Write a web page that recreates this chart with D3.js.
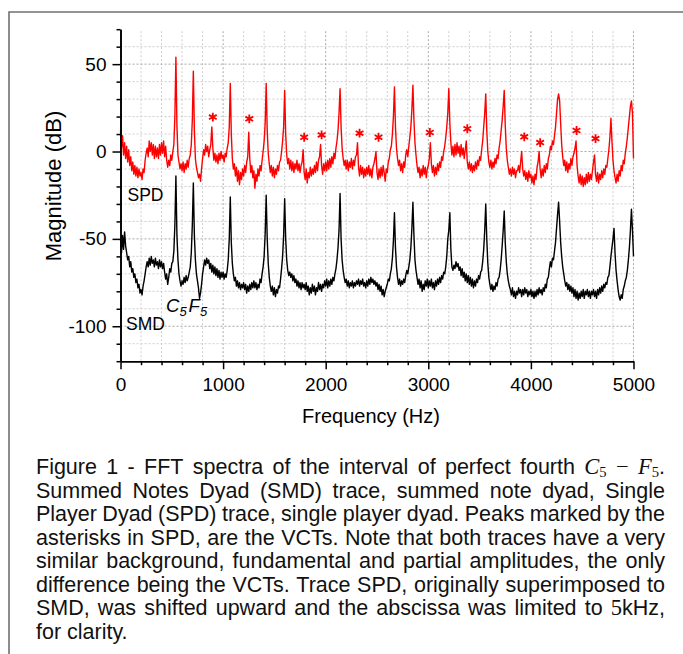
<!DOCTYPE html>
<html><head><meta charset="utf-8">
<script src="https://cdn.jsdelivr.net/npm/d3@7/dist/d3.min.js"></script>
<style>body{margin:0;background:#fff}svg{display:block}</style>
</head><body>
<script>
// ---------- DATA ----------
const freqStep = 10; // Hz between FFT bins, 0..5000 Hz
// Summed Notes Dyad (SMD), dB, one row per 200 Hz
const smdDb = [
 -50,-58,-48,-56,-46,-54,-58,-62,-60,-66,-63,-69,-67,-72,-70,-75,-73,-78,-76,-81,
 -79,-82,-77,-74,-70,-66,-63,-66,-61,-65,-60,-64,-62,-66,-61,-65,-63,-67,-62,-66,
 -63,-67,-64,-69,-73,-70,-76,-72,-67,-69,-64,-63,-57,-42,-14,-48,-62,-70,-74,-77,
 -74,-76,-72,-75,-71,-74,-72,-69,-66,-58,-42,-18,-48,-62,-70,-74,-78,-84,-81,-76,
 -70,-66,-62,-65,-61,-64,-62,-67,-64,-69,-65,-70,-66,-71,-67,-72,-68,-73,-69,-72,
 -69,-73,-70,-72,-68,-62,-50,-26,-52,-64,-70,-74,-72,-77,-74,-78,-75,-79,-76,-78,
 -75,-79,-76,-81,-77,-80,-76,-79,-75,-78,-74,-78,-75,-79,-76,-78,-73,-75,-70,-66,
 -60,-47,-25,-50,-64,-72,-77,-80,-77,-82,-78,-83,-79,-81,-77,-78,-73,-67,-60,-48,
 -27,-50,-62,-68,-71,-69,-72,-70,-74,-71,-75,-73,-77,-74,-78,-75,-79,-75,-78,-76,
 -79,-75,-80,-77,-82,-78,-81,-76,-80,-77,-82,-78,-80,-75,-79,-76,-80,-76,-78,-74,
 -77,-73,-78,-74,-77,-73,-76,-72,-74,-70,-67,-62,-55,-45,-24,-50,-62,-68,-72,-75,
 -73,-77,-74,-78,-75,-77,-74,-78,-75,-77,-74,-76,-73,-77,-74,-76,-73,-77,-75,-78,
 -74,-77,-73,-76,-72,-75,-73,-76,-74,-77,-75,-79,-76,-80,-77,-82,-79,-83,-80,-78,
 -76,-73,-74,-70,-67,-61,-51,-35,-55,-66,-72,-76,-73,-77,-74,-76,-73,-75,-71,-68,
 -70,-66,-62,-55,-44,-29,-48,-62,-68,-72,-76,-73,-78,-74,-80,-76,-79,-74,-77,-73,
 -78,-74,-77,-73,-78,-75,-79,-74,-77,-73,-76,-72,-75,-71,-73,-69,-70,-66,-60,-50,
 -45,-35,-56,-66,-68,-65,-67,-63,-66,-64,-68,-66,-71,-67,-72,-69,-74,-70,-75,-71,
 -76,-72,-77,-73,-78,-74,-77,-73,-75,-71,-73,-69,-68,-63,-56,-45,-30,-50,-64,-72,
 -76,-79,-76,-80,-77,-79,-75,-77,-73,-72,-68,-62,-54,-45,-34,-52,-63,-70,-74,-77,
 -79,-82,-78,-83,-80,-84,-80,-82,-78,-81,-79,-83,-79,-82,-78,-81,-79,-83,-80,-82,
 -79,-83,-80,-84,-80,-83,-79,-82,-78,-81,-79,-82,-78,-80,-76,-78,-73,-72,-67,-63,
 -66,-61,-62,-57,-52,-44,-36,-29,-40,-52,-60,-66,-70,-74,-77,-75,-79,-76,-80,-77,
 -81,-78,-83,-79,-84,-80,-85,-81,-84,-80,-83,-79,-84,-80,-82,-79,-83,-80,-84,-80,
 -82,-79,-83,-80,-84,-79,-82,-78,-81,-77,-80,-76,-78,-75,-76,-72,-71,-66,-60,-55,
 -50,-44,-58,-68,-74,-79,-83,-85,-82,-84,-79,-77,-74,-72,-68,-62,-55,-45,-33,-45,
 -60
];
// Single Player Dyad (SPD), dB (shifted upward), one row per 200 Hz
const spdDb = [
 12,2,9,-2,5,-4,3,-6,1,-8,-3,-11,-6,-13,-8,-14,-9,-15,-10,-14,
 -12,-16,-10,-12,-5,-1,2,-3,6,0,5,-2,4,-4,3,-3,2,-4,4,-2,
 5,-1,6,-3,3,-5,-9,-5,-8,-2,-5,0,4,20,54,15,-2,-6,-10,-7,
 -11,-6,-12,-7,-10,-5,-9,-4,-2,4,18,46,12,-4,-9,-12,-15,-13,-17,-10,
 -4,1,-2,4,0,3,-3,1,4,14,2,-5,-1,-6,-2,-7,-1,-5,0,-4,
 -2,-6,-1,-3,2,5,14,39,10,-4,-10,-7,-14,-9,-17,-11,-19,-12,-16,-10,
 -14,-8,-12,-6,-3,11,-4,-12,-8,-15,-11,-21,-13,-17,-10,-14,-8,-11,-5,0,
 6,16,39,12,-1,-7,-12,-8,-14,-9,-15,-10,-13,-8,-11,-6,-5,0,6,14,
 35,10,-2,-7,-4,-10,-5,-11,-6,-12,-7,-10,-5,-11,-7,-12,-8,-6,1,-12,
 -16,-10,-18,-12,-15,-9,-14,-10,-13,-8,-12,-6,-11,-5,-3,4,-8,-13,-7,-11,
 -6,-11,-5,-10,-4,-9,-3,-7,-1,-4,2,6,12,22,36,14,2,-4,-8,-5,
 -10,-5,-11,-6,-9,-4,-10,-5,-8,-3,-2,5,-9,-14,-8,-13,-9,-15,-10,-14,
 -9,-13,-8,-14,-10,-15,-9,-7,-4,0,-12,-16,-10,-15,-9,-14,-8,-12,-17,-10,
 -12,-6,-4,1,3,10,20,37,14,2,-4,-8,-5,-11,-7,-12,-6,-9,-2,1,
 -3,3,8,14,24,38,18,5,-2,-8,-12,-9,-15,-10,-14,-8,-13,-9,-15,-10,
 -8,-4,5,-7,-12,-8,-14,-9,-13,-7,-11,-6,-9,-3,-5,0,3,8,14,22,
 36,16,5,-2,3,-3,4,-2,5,-1,3,-3,4,-2,2,-4,1,6,-6,-10,
 -6,-11,-7,-12,-8,-11,-6,-10,-5,-8,-3,-5,1,6,14,22,33,12,0,-6,
 -9,-5,-10,-6,-9,-4,-7,-2,-4,2,6,12,18,26,35,15,2,-5,-9,-13,
 -10,-14,-9,-13,-10,-15,-11,-11,-8,-12,-6,0,-10,-14,-11,-16,-12,-17,-11,-15,
 -13,-18,-14,-19,-13,-16,-9,-6,0,-10,-15,-10,-14,-8,-12,-7,-10,-4,-2,3,
 1,6,4,9,14,22,30,33,29,16,4,-3,-8,-5,-11,-6,-12,-7,-10,-4,
 -8,-3,-1,2,6,-8,-14,-18,-13,-19,-14,-20,-15,-19,-13,-18,-12,-17,-13,-16,
 -11,-6,-2,-13,-17,-12,-18,-13,-16,-11,-15,-10,-13,-8,-9,-4,1,8,19,6,
 -5,-11,-15,-18,-13,-17,-11,-14,-8,-11,-5,-7,-1,3,8,14,20,26,29,22,
 -4
];
// VCT asterisks (frequency Hz, dB)
const vctFreq = [900, 1255, 1790, 1960, 2330, 2515, 3015, 3380, 3935, 4090, 4445, 4630];
const vctDb   = [19.7, 18.7, 8.2, 9.5, 10.5, 8.2, 10.9, 13, 8.4, 5.1, 12, 7.4];
// axes
const xTicks = [0, 1000, 2000, 3000, 4000, 5000];
const yTicks = [-100, -50, 0, 50];
const xMinor = d3.range(0, 5001, 200);
const yMinor = d3.range(-120, 71, 10);
const xLabel = "Frequency (Hz)";
const yLabel = "Magnitude (dB)";
const captionLines = [
 ["Figure","1","-","FFT","spectra","of","the","interval","of","perfect","fourth","$C_5$","$−$","$F_5$."],
 "Summed Notes Dyad (SMD) trace, summed note dyad, Single".split(" "),
 "Player Dyad (SPD) trace, single player dyad. Peaks marked by the".split(" "),
 "asterisks in SPD, are the VCTs. Note that both traces have a very".split(" "),
 "similar background, fundamental and partial amplitudes, the only".split(" "),
 "difference being the VCTs. Trace SPD, originally superimposed to".split(" "),
 ["SMD,","was","shifted","upward","and","the","abscissa","was","limited","to","$5$kHz,"],
 ["for","clarity."]
];

// ---------- DRAW ----------
const SANS = "'Liberation Sans', Arial, Helvetica, sans-serif";
const SERIF = "'Liberation Serif', 'DejaVu Serif', serif";
const W = 683, H = 654;
const svg = d3.select("body").append("svg").attr("width", W).attr("height", H);
const x = d3.scaleLinear().domain([0, 5000]).range([120.5, 633.5]);
const y = d3.scaleLinear().domain([-120, 70]).range([361.2, 29.2]);

// frame
svg.append("path").attr("d", "M9,654V12H683").attr("fill", "none")
  .attr("stroke", "#707070").attr("stroke-width", 1.6);

// grid
const grid = svg.append("g");
grid.selectAll("line.v").data(xMinor.filter(d => d > 0)).join("line")
  .attr("x1", d => x(d)).attr("x2", d => x(d)).attr("y1", y(-120)).attr("y2", y(70))
  .attr("stroke", d => d % 1000 === 0 ? "#a8a8a8" : "#cdcdcd").attr("stroke-width", 1)
  .attr("stroke-dasharray", "2,2");
grid.selectAll("line.h").data(yMinor.filter(d => d > -120 && d < 70)).join("line")
  .attr("y1", d => y(d)).attr("y2", d => y(d)).attr("x1", x(0)).attr("x2", x(5000))
  .attr("stroke", d => d % 50 === 0 ? "#a8a8a8" : "#cdcdcd").attr("stroke-width", 1)
  .attr("stroke-dasharray", "2,2");

// traces
const line = d3.line().x((d, i) => x(i * freqStep)).y(d => y(d));
svg.append("path").datum(smdDb).attr("d", line).attr("fill", "none")
  .attr("stroke", "#000").attr("stroke-width", 1.4).attr("stroke-linejoin", "round");
svg.append("path").datum(spdDb).attr("d", line).attr("fill", "none")
  .attr("stroke", "#ff0000").attr("stroke-width", 1.4).attr("stroke-linejoin", "round");

// asterisks
const star = d3.symbol().type(d3.symbolAsterisk).size(55);
svg.append("g").selectAll("path").data(vctFreq).join("path")
  .attr("transform", (d, i) => `translate(${x(d)},${y(vctDb[i])})`)
  .attr("d", star).attr("fill", "none").attr("stroke", "#ff0000").attr("stroke-width", 1.8);

// axes
function styleAxis(g) {
  g.selectAll("path.domain").attr("stroke-width", 1.6);
  g.selectAll(".tick line").attr("stroke-width", 1.5);
  g.selectAll("text").attr("font-family", SANS).attr("font-size", 19).attr("fill", "#000");
}
const plain = d => String(d);
const yMinorAxis = svg.append("g").attr("transform", `translate(${x(0)},0)`)
  .call(d3.axisLeft(y).tickValues(yMinor.filter(d => !yTicks.includes(d))).tickSize(4).tickSizeOuter(0).tickFormat(""));
styleAxis(yMinorAxis);
const xMinorAxis = svg.append("g").attr("transform", `translate(0,${y(-120)})`)
  .call(d3.axisBottom(x).tickValues(xMinor.filter(d => !xTicks.includes(d))).tickSize(4).tickSizeOuter(0).tickFormat(""));
styleAxis(xMinorAxis);
const yAxis = svg.append("g").attr("transform", `translate(${x(0)},0)`)
  .call(d3.axisLeft(y).tickValues(yTicks).tickSize(8).tickPadding(6).tickSizeOuter(0).tickFormat(plain));
styleAxis(yAxis);
const xAxis = svg.append("g").attr("transform", `translate(0,${y(-120)})`)
  .call(d3.axisBottom(x).tickValues(xTicks).tickSize(8).tickPadding(8).tickSizeOuter(0).tickFormat(plain));
styleAxis(xAxis);

// axis titles
svg.append("text").attr("transform", "translate(61,186) rotate(-90)")
  .attr("text-anchor", "middle").attr("font-family", SANS).attr("font-size", 22).text(yLabel);
svg.append("text").attr("x", 371).attr("y", 423).attr("text-anchor", "middle")
  .attr("font-family", SANS).attr("font-size", 20).text(xLabel);

// trace labels
svg.append("text").attr("x", 127.5).attr("y", 201).attr("font-family", SANS).attr("font-size", 17.5).text("SPD");
svg.append("text").attr("x", 126).attr("y", 330).attr("font-family", SANS).attr("font-size", 17.5).text("SMD");
const cf = svg.append("text").attr("x", 166).attr("y", 311.5).attr("font-family", SANS).attr("font-style", "italic");
cf.append("tspan").attr("font-size", 18.5).text("C");
cf.append("tspan").attr("font-size", 13).attr("dy", 4).text("5");
cf.append("tspan").attr("font-size", 18.5).attr("dy", -4).attr("dx", 2).text("F");
cf.append("tspan").attr("font-size", 13).attr("dy", 4).text("5");

// caption (justified)
const capX0 = 36, capX1 = 665, capY0 = 474, capLH = 23.5, capFont = 21.5;
function fillWord(t, w) {
  const parts = w.split("$");
  let shift = 0;
  parts.forEach((p, k) => {
    if (!p) return;
    if (k % 2 === 0) {
      t.append("tspan").attr("dy", -shift).attr("font-family", SANS).text(p); shift = 0;
    } else {
      for (let c = 0; c < p.length; c++) {
        const ch = p[c];
        if (ch === "_") {
          const s = p[++c];
          t.append("tspan").attr("font-family", SERIF).attr("font-size", capFont * 0.68)
            .attr("dy", 3 - shift).text(s); shift = 3;
        } else {
          t.append("tspan").attr("font-family", SERIF).attr("font-size", capFont + 1)
            .attr("font-style", /[A-Za-z]/.test(ch) ? "italic" : "normal")
            .attr("dy", -shift).text(ch); shift = 0;
        }
      }
    }
  });
}
captionLines.forEach((words, li) => {
  const yy = capY0 + li * capLH;
  const g = svg.append("g");
  const nodes = words.map(w => {
    const t = g.append("text").attr("font-family", SANS).attr("font-size", capFont).attr("fill", "#111");
    fillWord(t, w);
    return { t, w: t.node().getComputedTextLength() };
  });
  const total = d3.sum(nodes, d => d.w);
  const last = li === captionLines.length - 1;
  let gap = last ? capFont * 0.278 : (capX1 - capX0 - total) / (nodes.length - 1);
  let s = 1;
  if (!last && gap < 4) { gap = 4; s = (capX1 - capX0) / (total + gap * (nodes.length - 1)); }
  g.attr("transform", `translate(${capX0},${yy}) scale(${s},1)`);
  let cx = 0;
  nodes.forEach(n => { n.t.attr("x", cx).attr("y", 0); cx += n.w + gap; });
});
</script>
</body></html>
